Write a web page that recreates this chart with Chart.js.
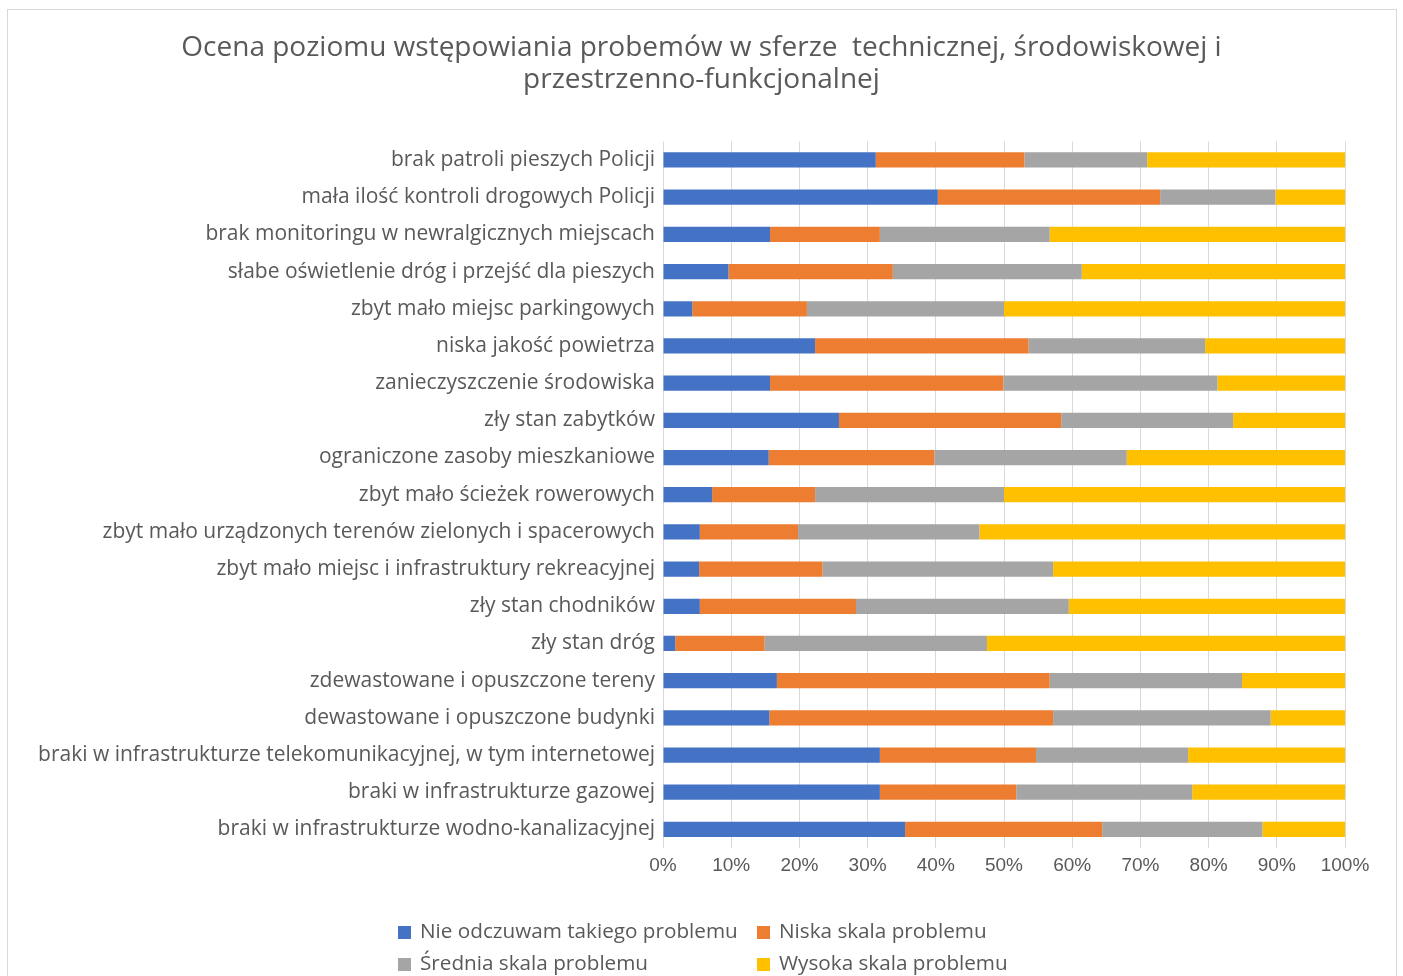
<!DOCTYPE html>
<html lang="pl">
<head>
<meta charset="UTF-8">
<title>Ocena poziomu występowania problemów</title>
<script src="https://cdn.jsdelivr.net/npm/chart.js"></script>
<style>
    html, body { margin: 0; padding: 0; background: #fff; }
    #wrap { position: relative; width: 1403px; height: 976px; overflow: hidden; }
    #frame { position: absolute; left: 7px; top: 9px; width: 1390px; height: 990px; border: 1px solid #d9d9d9; box-sizing: border-box; }
    #chart { position: absolute; left: 0; top: 0; }
    #legend { position: absolute; left: 398px; top: 918px; width: 700px; font-family: "Open Sans", sans-serif; font-size: 20.7px; color: #595959; }
    .item { position: absolute; white-space: nowrap; line-height: 24px; }
    .item span.box { display: inline-block; width: 13px; height: 13px; margin-right: 9px; vertical-align: -1px; }
</style>
</head>
<body>
<div id="wrap">
    <div id="frame"></div>
    <canvas id="chart" width="1403" height="976"></canvas>
    <div id="legend"></div>
</div>
<script>
    const categories = [
        'brak patroli pieszych Policji',
        'mała ilość kontroli drogowych Policji',
        'brak monitoringu w newralgicznych miejscach',
        'słabe oświetlenie dróg i przejść dla pieszych',
        'zbyt mało miejsc parkingowych',
        'niska jakość powietrza',
        'zanieczyszczenie środowiska',
        'zły stan zabytków',
        'ograniczone zasoby mieszkaniowe',
        'zbyt mało ścieżek rowerowych',
        'zbyt mało urządzonych terenów zielonych i spacerowych',
        'zbyt mało miejsc i infrastruktury rekreacyjnej',
        'zły stan chodników',
        'zły stan dróg',
        'zdewastowane i opuszczone tereny',
        'dewastowane i opuszczone budynki',
        'braki w infrastrukturze telekomunikacyjnej, w tym internetowej',
        'braki w infrastrukturze gazowej',
        'braki w infrastrukturze wodno-kanalizacyjnej'
    ];

    const brakProblemu = [31.2, 40.3, 15.7, 9.6, 4.3, 22.3, 15.7, 25.8, 15.5, 7.2, 5.4, 5.3, 5.4, 1.8, 16.7, 15.6, 31.8, 31.8, 35.5];
    const niskaSkala   = [21.8, 32.6, 16.1, 24.1, 16.8, 31.3, 34.2, 32.6, 24.3, 15.1, 14.4, 18.1, 22.9, 13.1, 40.0, 41.6, 22.9, 20.0, 28.9];
    const sredniaSkala = [18.0, 16.9, 24.9, 27.7, 28.9, 25.9, 31.4, 25.2, 28.2, 27.7, 26.6, 33.8, 31.2, 32.6, 28.2, 31.9, 22.3, 25.8, 23.5];
    const wysokaSkala  = [29.0, 10.2, 43.3, 38.6, 50.0, 20.5, 18.7, 16.4, 32.0, 50.0, 53.6, 42.8, 40.5, 52.5, 15.1, 10.9, 23.0, 22.4, 12.1];

    const seriesNames = ['Nie odczuwam takiego problemu', 'Niska skala problemu', 'Średnia skala problemu', 'Wysoka skala problemu'];
    const colors = ['#4472C4', '#ED7D31', '#A5A5A5', '#FFC000'];
    const textColor = '#595959';
    const font = '"Open Sans", sans-serif';

    const values = [brakProblemu, niskaSkala, sredniaSkala, wysokaSkala];

    new Chart(document.getElementById('chart'), {
        type: 'bar',
        data: {
            labels: categories,
            datasets: values.map((v, i) => ({
                label: seriesNames[i],
                data: v,
                backgroundColor: colors[i],
                borderWidth: 0,
                barPercentage: 0.41,
                categoryPercentage: 1,
                yAxisID: 'y'
            }))
        },
        options: {
            indexAxis: 'y',
            responsive: false,
            animation: false,
            // equal left/right padding so the title centres on the whole canvas
            layout: { padding: { left: 20, right: 20, top: 0, bottom: 88 } },
            plugins: {
                legend: { display: false },
                tooltip: { enabled: false },
                title: {
                    display: true,
                    text: ['Ocena poziomu wstępowiania probemów w sferze  technicznej, środowiskowej i', 'przestrzenno-funkcjonalnej'],
                    color: textColor,
                    font: { family: font, size: 28, weight: 'normal', lineHeight: 1.15 },
                    padding: { top: 32, bottom: 45 }
                }
            },
            scales: {
                x: {
                    stacked: true,
                    min: 0,
                    max: 100,
                    ticks: {
                        stepSize: 10,
                        color: textColor,
                        font: { family: '"Liberation Sans", sans-serif', size: 19 },
                        padding: 6,
                        callback: v => v + '%'
                    },
                    grid: { color: '#d9d9d9', lineWidth: 1, drawTicks: false },
                    border: { display: false },
                    afterFit: s => { s.height = 40; }
                },
                y: {
                    stacked: true,
                    ticks: {
                        color: textColor,
                        font: { family: font, size: 21 },
                        padding: 0,
                        autoSkip: false
                    },
                    grid: { display: false },
                    border: { display: false },
                    afterFit: s => { s.width = 663 - 20; }
                },
                // empty spacer on the right so the plot ends at the same place as the original
                yRight: {
                    type: 'category',
                    position: 'right',
                    ticks: { display: false },
                    grid: { display: false },
                    border: { display: false },
                    afterFit: s => { s.width = 1403 - 20 - 1345; }
                }
            }
        }
    });

    // legend drawn as html, two columns like the original
    const legend = document.getElementById('legend');
    const pos = [[0, 0], [359, 0], [0, 32], [359, 32]];
    seriesNames.forEach((name, i) => {
        const el = document.createElement('div');
        el.className = 'item';
        el.style.left = pos[i][0] + 'px';
        el.style.top = pos[i][1] + 'px';
        el.innerHTML = '<span class="box" style="background:' + colors[i] + '"></span>' + name;
        legend.appendChild(el);
    });
</script>
</body>
</html>
